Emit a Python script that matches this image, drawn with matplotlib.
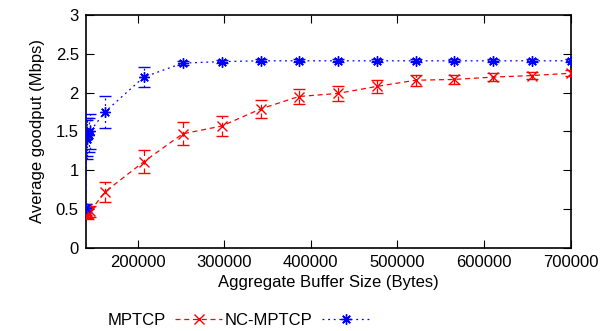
import matplotlib
matplotlib.use("Agg")
import matplotlib.pyplot as plt
from matplotlib.lines import Line2D

plt.rcParams['font.family'] = ['Liberation Sans', 'DejaVu Sans']

# MPTCP (red)
mptcp_x = [140000, 141500, 143000, 145000, 162000, 207000, 252000, 297000, 342000,
           386000, 431000, 476000, 521000, 565000, 610000, 655000, 700000]
mptcp_y = [0.50, 0.46, 0.44, 0.47, 0.72, 1.11, 1.47, 1.57, 1.79,
           1.95, 1.99, 2.08, 2.16, 2.17, 2.20, 2.22, 2.25]
mptcp_err = [0.07, 0.07, 0.07, 0.07, 0.13, 0.15, 0.15, 0.13, 0.12,
             0.10, 0.10, 0.08, 0.07, 0.06, 0.05, 0.05, 0.04]

# NC-MPTCP (blue)
nc_x = [140000, 141000, 142000, 143500, 145000, 162000, 207000, 252000, 297000, 342000,
        386000, 431000, 476000, 521000, 565000, 610000, 655000, 700000]
nc_y = [0.51, 1.40, 1.43, 1.46, 1.50, 1.75, 2.20, 2.38, 2.40, 2.41,
        2.41, 2.41, 2.41, 2.41, 2.41, 2.41, 2.41, 2.41]
nc_err = [0.05, 0.25, 0.25, 0.22, 0.22, 0.21, 0.13, 0.03, 0.02, 0.02,
          0.02, 0.02, 0.02, 0.02, 0.02, 0.02, 0.02, 0.02]

x_ticks = [200000, 300000, 400000, 500000, 600000, 700000]
y_ticks = [0, 0.5, 1, 1.5, 2, 2.5, 3]
y_tick_labels = ['0', '0.5', '1', '1.5', '2', '2.5', '3']

fig = plt.figure(figsize=(6.02, 3.31), dpi=100)
ax = fig.add_axes([0.1424, 0.2508, 0.8053, 0.7039])

red = '#ff0000'
blue = '#0000ff'
asterisk = (8, 2, 0)

eb1 = ax.errorbar(mptcp_x, mptcp_y, yerr=mptcp_err, color=red, lw=0.9,
                  linestyle=(0, (4, 3)), marker='x', markersize=6.5, mew=1.0,
                  capsize=4, elinewidth=0.9, capthick=0.9, zorder=3)
eb1[2][0].set_linestyle((0, (4, 3)))

eb2 = ax.errorbar(nc_x, nc_y, yerr=nc_err, color=blue, lw=0.9,
                  linestyle=(0, (1.5, 3)), marker=asterisk, markersize=7.5, mew=1.0,
                  capsize=4, elinewidth=0.9, capthick=0.9, zorder=3)
eb2[2][0].set_linestyle((0, (1.5, 3)))

ax.set_xlim(140000, 700000)
ax.set_ylim(0, 3)
ax.set_xticks(x_ticks)
ax.set_xticklabels([str(v) for v in x_ticks])
ax.set_yticks(y_ticks)
ax.set_yticklabels(y_tick_labels)
ax.tick_params(direction='in', length=5.5, width=0.8, top=True, right=True,
               labelsize=12, pad=5, colors='black')
for s in ax.spines.values():
    s.set_linewidth(1.2)
    s.set_color('black')

ax.set_xlabel('Aggregate Buffer Size (Bytes)', fontsize=12, labelpad=4)
ax.set_ylabel('Average goodput (Mbps)', fontsize=12, labelpad=8)

h1 = Line2D([], [], color=red, lw=0.9, linestyle=(0, (4, 3)), marker='x',
            markersize=6.5, mew=1.0)
h2 = Line2D([], [], color=blue, lw=0.9, linestyle=(0, (1.5, 3)), marker=asterisk,
            markersize=7.5, mew=1.0)
fig.legend([h1, h2], ['MPTCP', 'NC-MPTCP'], ncol=2, markerfirst=False,
           loc='center left', bbox_to_anchor=(0.178, 0.033), frameon=False,
           fontsize=12, handlelength=2.8, handletextpad=0.6, columnspacing=0.15,
           borderaxespad=0, borderpad=0)

fig.savefig('out.png', dpi=100)
